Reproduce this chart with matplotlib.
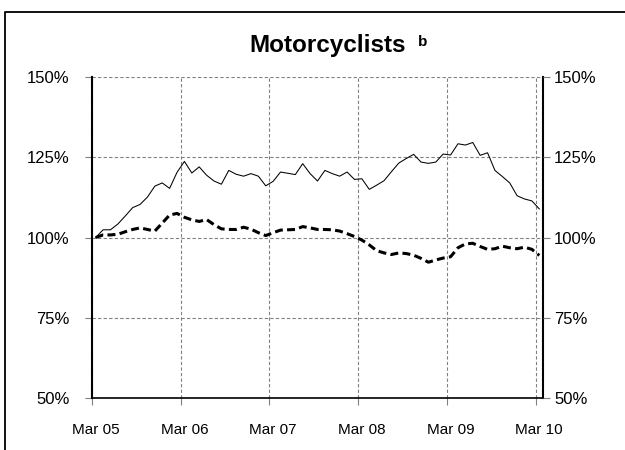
import matplotlib
matplotlib.use("Agg")
import matplotlib.pyplot as plt
from matplotlib.lines import Line2D

plt.rcParams['font.family'] = ['Liberation Sans', 'DejaVu Sans']

# ---- data -------------------------------------------------------------
month_index = list(range(61))          # Mar 05 ... Mar 10 (monthly categories)
tick_labels = ["Mar 05", "Mar 06", "Mar 07", "Mar 08", "Mar 09", "Mar 10"]
tick_months = [0, 12, 24, 36, 48, 60]
y_ticks = [50, 75, 100, 125, 150]

solid_series = [100, 102.4, 102.4, 104.2, 106.7, 109.3, 110.3, 112.6, 116.0, 117.0,
                115.3, 120.3, 123.7, 120.1, 122.0, 119.4, 117.6, 116.6, 120.9, 119.7,
                119.1, 119.9, 119.1, 116.1, 117.5, 120.4, 120.0, 119.6, 123.0, 119.9,
                117.6, 120.9, 119.9, 119.1, 120.4, 118.1, 118.3, 115.0, 116.3, 117.7,
                120.5, 123.2, 124.6, 125.9, 123.5, 123.1, 123.5, 126.0, 125.7, 129.2,
                128.8, 129.6, 125.6, 126.4, 120.9, 119.0, 117.0, 113.0, 112.0, 111.4,
                108.9]

dashed_series = [100, 100.8, 100.8, 101.0, 101.8, 102.5, 103.0, 102.5, 102.0, 104.5,
                 107.0, 107.5, 106.3, 105.5, 105.0, 105.6, 104.0, 102.7, 102.5, 102.5,
                 103.2, 102.6, 101.5, 100.6, 101.5, 102.3, 102.4, 102.5, 103.4, 103.0,
                 102.5, 102.5, 102.4, 102.0, 101.2, 100.3, 99.2, 97.7, 95.9, 95.2,
                 94.7, 95.2, 95.0, 94.5, 93.5, 92.3, 93.0, 93.6, 94.0, 96.8,
                 98.0, 98.2, 97.2, 96.3, 96.5, 97.3, 96.8, 96.5, 97.0, 96.3,
                 94.4]

# ---- figure -----------------------------------------------------------
W, H = 625, 450
fig = plt.figure(figsize=(W / 100, H / 100), dpi=100)
ax = fig.add_axes([92 / W, 1 - 398 / H, (543 - 92) / W, (398 - 77) / H])

x_centers = [m + 0.5 for m in month_index]
ax.plot(x_centers, solid_series, color='black', lw=0.75, zorder=3)
ax.plot(x_centers, dashed_series, color='black', lw=2.2, dashes=(2.6, 1.4),
        zorder=3, solid_capstyle='butt', dash_capstyle='butt')

ax.set_xlim(0, len(month_index))
ax.set_ylim(50, 150)

# x axis: tick marks / gridlines at category boundaries, labels at category centres
ax.set_xticks(tick_months)
ax.set_xticklabels([])
ax.set_xticks([m + 0.5 for m in tick_months], minor=True)
ax.set_xticklabels(tick_labels, minor=True, fontsize=11)
ax.tick_params(axis='x', which='major', direction='out', length=5, color='#808080', width=0.8)
ax.tick_params(axis='x', which='minor', length=0, pad=18)

ax.set_yticks(y_ticks)
ax.set_yticklabels([f"{v}%" for v in y_ticks], fontsize=12)
ax.tick_params(axis='y', which='major', direction='out', length=5, color='#808080',
               width=0.8, left=True, right=False, labelleft=True, labelright=False, pad=11)

# right-hand axis labels
axr = ax.twinx()
axr.set_ylim(ax.get_ylim())
axr.set_yticks(y_ticks)
axr.set_yticklabels([f"{v}%" for v in y_ticks], fontsize=12)
axr.tick_params(axis='y', direction='out', length=5, color='#808080', width=0.8, pad=3)
for s in axr.spines.values():
    s.set_visible(False)

ax.grid(True, which='major', color='#808080', lw=0.8, linestyle=(0, (3, 2)))
ax.set_axisbelow(True)

for side in ['left', 'right']:
    ax.spines[side].set_linewidth(1.5)
    ax.spines[side].set_color('black')
ax.spines['bottom'].set_linewidth(1.2)
ax.spines['top'].set_visible(False)

# title
fig.text(249 / W, 1 - 52 / H, "Motorcyclists", fontsize=17.5, fontweight='bold',
         ha='left', va='baseline')
fig.text(418 / W, 1 - 46 / H, "b", fontsize=11, fontweight='bold',
         ha='left', va='baseline')

# figure frame (top and left edges)
fig.add_artist(Line2D([5 / W, 5 / W, 1.0], [0.0, 1 - 12 / H, 1 - 12 / H],
                      transform=fig.transFigure, color='black', lw=1.3))

fig.savefig("out.png", dpi=100)
